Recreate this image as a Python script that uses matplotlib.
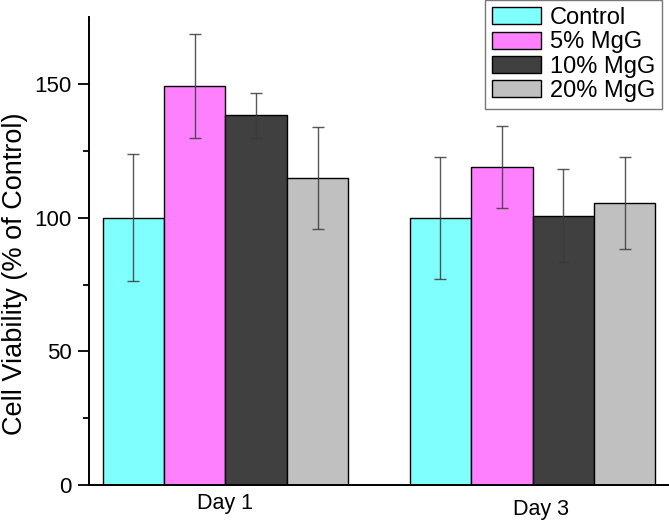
import matplotlib
matplotlib.use("Agg")
import matplotlib.pyplot as plt
import numpy as np
from matplotlib.transforms import ScaledTranslation
from matplotlib.patches import Patch

plt.rcParams['font.family'] = ['Liberation Sans', 'DejaVu Sans']

groups = ["Day 1", "Day 3"]
series = ["Control", "5% MgG", "10% MgG", "20% MgG"]
colors = ["#80ffff", "#ff80ff", "#404040", "#c0c0c0"]
means = {
    "Control": [100.0, 100.0],
    "5% MgG": [149.3, 119.0],
    "10% MgG": [138.4, 100.8],
    "20% MgG": [114.9, 105.5],
}
errors = {
    "Control": [23.7, 22.8],
    "5% MgG": [19.6, 15.4],
    "10% MgG": [8.4, 17.3],
    "20% MgG": [19.1, 17.2],
}

fig = plt.figure(figsize=(6.69, 5.21), dpi=100)
ax = fig.add_axes([89.3 / 669, 36 / 521, 1 - 89.3 / 669, (485 - 17.3) / 521])

x = np.arange(len(groups))
w = 0.2
for i, s in enumerate(series):
    pos = x - 0.3 + i * w
    ax.bar(pos, means[s], width=w, color=colors[i], edgecolor='black',
           linewidth=1.0, zorder=2)
    ax.errorbar(pos, means[s], yerr=errors[s], fmt='none', ecolor='#3a3a3a',
                elinewidth=1.0, capsize=4, capthick=1.0, zorder=3, alpha=0.85)

ax.set_xlim(-0.443, 1.444)
ax.set_ylim(0, 175)
ax.set_yticks([0, 50, 100, 150])
ax.set_yticks([25, 75, 125], minor=True)
ax.tick_params(axis='y', which='major', direction='out', length=8, width=1.3,
               labelsize=16, pad=4.5)
ax.tick_params(axis='y', which='minor', direction='out', length=4.5, width=1.3)

ax.set_xticks([0, 1.027])
ax.set_xticklabels(groups)
ax.tick_params(axis='x', length=0, labelsize=15.5, pad=6)
lbl = ax.get_xticklabels()[1]
lbl.set_transform(lbl.get_transform() + ScaledTranslation(0, -6 / 100, fig.dpi_scale_trans))

for sp in ['top', 'right']:
    ax.spines[sp].set_visible(False)
for sp in ['left', 'bottom']:
    ax.spines[sp].set_linewidth(1.4)

ax.set_ylabel("Cell Viability (% of Control)", fontsize=19.5)
ax.yaxis.set_label_coords(-0.106, 0.451)

handles = [Patch(facecolor=c, edgecolor='black', linewidth=1.0) for c in colors]
leg = fig.legend(handles, series, loc='upper right',
                 bbox_to_anchor=(662 / 669, 1.0), fontsize=17,
                 frameon=True, fancybox=False, edgecolor='#555555',
                 handlelength=2.08, handleheight=0.72, handletextpad=0.38,
                 labelspacing=0.1, borderpad=0.3, borderaxespad=0.0)
leg.get_frame().set_linewidth(1.0)

fig.savefig("out.png", dpi=100)
